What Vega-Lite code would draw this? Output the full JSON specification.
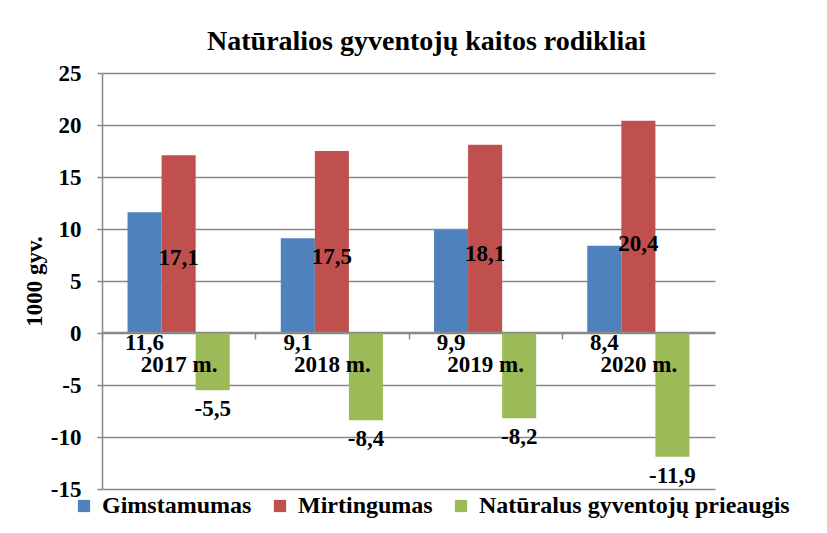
{
  "$schema": "https://vega.github.io/schema/vega-lite/v6.json",
  "autosize": {"type": "none"},
  "width": 613,
  "height": 416,
  "padding": {"left": 102, "top": 73, "right": 112, "bottom": 44},
  "background": "white",
  "title": {
    "text": "Natūralios gyventojų kaitos rodikliai",
    "font": "Liberation Serif",
    "fontSize": 28,
    "fontWeight": "bold",
    "color": "black",
    "anchor": "middle",
    "dx": 18,
    "offset": 6
  },
  "config": {
    "locale": {"number": {"decimal": ",", "thousands": " ", "grouping": [3], "currency": ["", " €"], "minus": "-"}},
    "view": {"stroke": null},
    "font": "Liberation Serif",
    "legend": {"labelFont": "Liberation Serif", "labelFontWeight": "bold", "labelLimit": 500}
  },
  "data": {
    "values": [
      {"year": "2017 m.", "series": "Gimstamumas", "v": 11.6},
      {"year": "2017 m.", "series": "Mirtingumas", "v": 17.1},
      {"year": "2017 m.", "series": "Natūralus gyventojų prieaugis", "v": -5.5},
      {"year": "2018 m.", "series": "Gimstamumas", "v": 9.1},
      {"year": "2018 m.", "series": "Mirtingumas", "v": 17.5},
      {"year": "2018 m.", "series": "Natūralus gyventojų prieaugis", "v": -8.4},
      {"year": "2019 m.", "series": "Gimstamumas", "v": 9.9},
      {"year": "2019 m.", "series": "Mirtingumas", "v": 18.1},
      {"year": "2019 m.", "series": "Natūralus gyventojų prieaugis", "v": -8.2},
      {"year": "2020 m.", "series": "Gimstamumas", "v": 8.4},
      {"year": "2020 m.", "series": "Mirtingumas", "v": 20.4},
      {"year": "2020 m.", "series": "Natūralus gyventojų prieaugis", "v": -11.9}
    ]
  },
  "encoding": {
    "x": {
      "field": "year", "type": "nominal", "sort": null,
      "scale": {"paddingInner": 0.3333, "paddingOuter": 0.1667},
      "axis": {
        "orient": "bottom", "offset": -157, "title": null, "labelAngle": 0,
        "labelFont": "Liberation Serif", "labelFontSize": 23, "labelFontWeight": "bold", "labelColor": "black",
        "labelPadding": 14, "labelBaseline": "top",
        "tickOffset": -76.6, "labelOffset": 76.6,
        "tickSize": 7, "tickColor": "#898989", "tickWidth": 1.5,
        "domainColor": "#898989", "domainWidth": 1.5, "grid": false, "zindex": 1
      }
    },
    "xOffset": {"field": "series", "type": "nominal", "sort": ["Gimstamumas", "Mirtingumas", "Natūralus gyventojų prieaugis"], "scale": {"paddingInner": 0, "paddingOuter": 0}}
  },
  "layer": [
    {
      "mark": {"type": "bar"},
      "encoding": {
        "y": {
          "field": "v", "type": "quantitative",
          "scale": {"domain": [-15, 25], "nice": false, "zero": false},
          "axis": {
            "values": [-15, -10, -5, 0, 5, 10, 15, 20, 25],
            "title": "1000 gyv.", "titleFont": "Liberation Serif", "titleFontSize": 23, "titleFontWeight": "bold", "titleColor": "black", "titlePadding": 4,
            "labelFont": "Liberation Serif", "labelFontSize": 23, "labelFontWeight": "bold", "labelColor": "black", "labelPadding": 16,
            "tickSize": 5, "tickColor": "#898989", "tickWidth": 1.5,
            "domainColor": "#898989", "domainWidth": 1.5,
            "grid": true, "gridColor": "#898989", "gridWidth": 1.5
          }
        },
        "y2": {"datum": 0},
        "color": {
          "field": "series", "type": "nominal",
          "sort": ["Gimstamumas", "Mirtingumas", "Natūralus gyventojų prieaugis"],
          "scale": {"range": ["#4F81BD", "#C0504D", "#9BBB59"]},
          "legend": {
            "title": null, "orient": "none", "direction": "horizontal", "legendX": -30, "legendY": 421,
            "symbolType": "square", "symbolSize": 150, "symbolStrokeWidth": 0,
            "labelFont": "Liberation Serif", "labelFontSize": 24, "labelFontWeight": "bold", "labelColor": "black", "labelLimit": 500,
            "columnPadding": 16, "labelOffset": 6
          }
        }
      }
    },
    {
      "transform": [{"filter": "datum.series === 'Gimstamumas'"}],
      "mark": {"type": "text", "baseline": "top", "align": "center", "dy": -1, "font": "Liberation Serif", "fontSize": 23, "fontWeight": "bold", "color": "black"},
      "encoding": {
        "y": {"datum": 0, "type": "quantitative"},
        "text": {"field": "v", "type": "quantitative", "format": ".1f"}
      }
    },
    {
      "transform": [{"filter": "datum.series === 'Mirtingumas'"}, {"calculate": "datum.v * 0.42", "as": "ly"}],
      "mark": {"type": "text", "baseline": "middle", "align": "center", "font": "Liberation Serif", "fontSize": 23, "fontWeight": "bold", "color": "black"},
      "encoding": {
        "y": {"field": "ly", "type": "quantitative"},
        "text": {"field": "v", "type": "quantitative", "format": ".1f"}
      }
    },
    {
      "transform": [{"filter": "datum.series === 'Natūralus gyventojų prieaugis'"}],
      "mark": {"type": "text", "baseline": "top", "align": "center", "dy": 8, "font": "Liberation Serif", "fontSize": 23, "fontWeight": "bold", "color": "black"},
      "encoding": {
        "y": {"field": "v", "type": "quantitative"},
        "text": {"field": "v", "type": "quantitative", "format": ".1f"}
      }
    }
  ]
}
